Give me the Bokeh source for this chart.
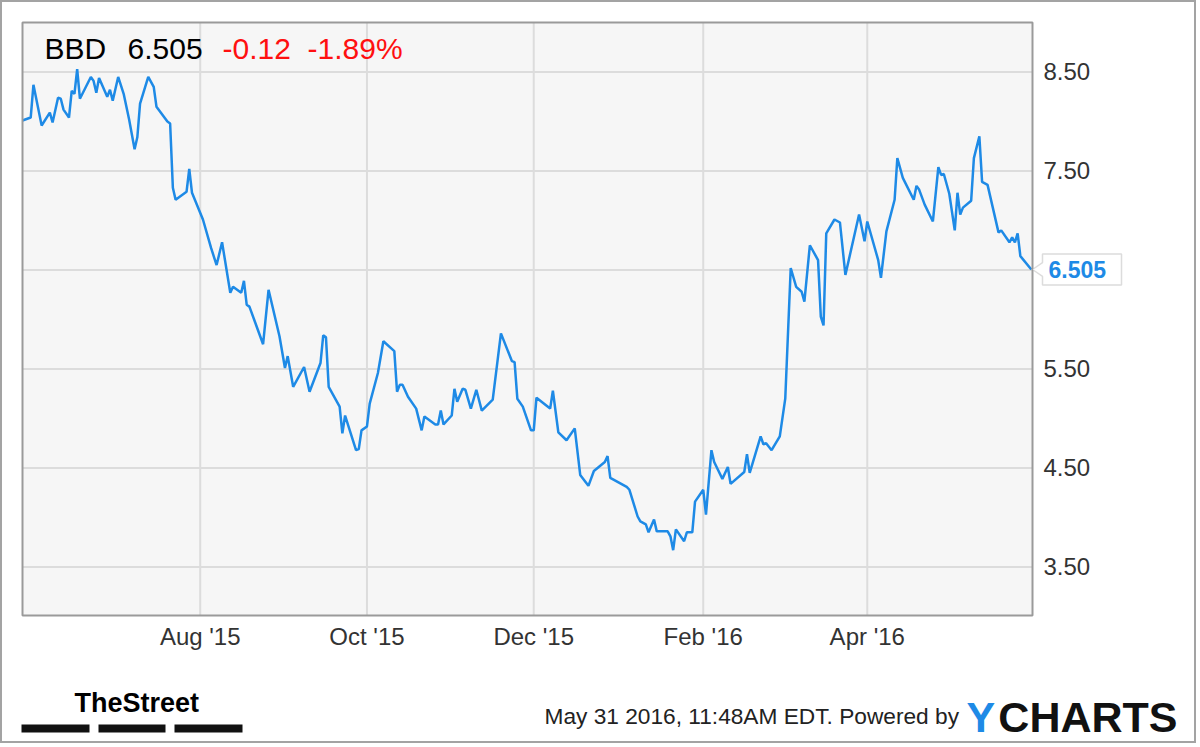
import pandas as pd
from bokeh.plotting import figure
from bokeh.models import Range1d, Label, BoxAnnotation, PolyAnnotation
from bokeh.core.properties import value
from bokeh.embed import file_html
from bokeh.resources import INLINE

# ---------------- data ----------------
dates = [
    "2015-05-28", "2015-05-31", "2015-06-01", "2015-06-04", "2015-06-07", "2015-06-08",
    "2015-06-10", "2015-06-11", "2015-06-12", "2015-06-14", "2015-06-15", "2015-06-16",
    "2015-06-17", "2015-06-18", "2015-06-22", "2015-06-23", "2015-06-24", "2015-06-25",
    "2015-06-28", "2015-06-29", "2015-06-30", "2015-07-02", "2015-07-04", "2015-07-06",
    "2015-07-08", "2015-07-09", "2015-07-10", "2015-07-13", "2015-07-15", "2015-07-16",
    "2015-07-20", "2015-07-21", "2015-07-22", "2015-07-23", "2015-07-27", "2015-07-28",
    "2015-07-29", "2015-08-02", "2015-08-05", "2015-08-07", "2015-08-09", "2015-08-12",
    "2015-08-13", "2015-08-16", "2015-08-17", "2015-08-18", "2015-08-19", "2015-08-24",
    "2015-08-26", "2015-08-30", "2015-09-01", "2015-09-02", "2015-09-04", "2015-09-08",
    "2015-09-10", "2015-09-14", "2015-09-15", "2015-09-16", "2015-09-17", "2015-09-21",
    "2015-09-22", "2015-09-23", "2015-09-27", "2015-09-28", "2015-09-29", "2015-10-01",
    "2015-10-02", "2015-10-05", "2015-10-07", "2015-10-11", "2015-10-12", "2015-10-13",
    "2015-10-14", "2015-10-16", "2015-10-19", "2015-10-21", "2015-10-22", "2015-10-26",
    "2015-10-27", "2015-10-28", "2015-10-29", "2015-11-01", "2015-11-02", "2015-11-03",
    "2015-11-05", "2015-11-06", "2015-11-08", "2015-11-10", "2015-11-12", "2015-11-16",
    "2015-11-19", "2015-11-23", "2015-11-24", "2015-11-25", "2015-11-27", "2015-11-30",
    "2015-12-01", "2015-12-02", "2015-12-07", "2015-12-08", "2015-12-10", "2015-12-13",
    "2015-12-16", "2015-12-18", "2015-12-21", "2015-12-23", "2015-12-27", "2015-12-28",
    "2015-12-29", "2016-01-04", "2016-01-05", "2016-01-08", "2016-01-09", "2016-01-11",
    "2016-01-12", "2016-01-14", "2016-01-15", "2016-01-19", "2016-01-20", "2016-01-21",
    "2016-01-22", "2016-01-25", "2016-01-26", "2016-01-28", "2016-01-29", "2016-02-01",
    "2016-02-02", "2016-02-04", "2016-02-05", "2016-02-08", "2016-02-10", "2016-02-11",
    "2016-02-16", "2016-02-17", "2016-02-18", "2016-02-22", "2016-02-23", "2016-02-24",
    "2016-02-26", "2016-02-29", "2016-03-02", "2016-03-04", "2016-03-06", "2016-03-08",
    "2016-03-09", "2016-03-11", "2016-03-14", "2016-03-15", "2016-03-16", "2016-03-17",
    "2016-03-20", "2016-03-22", "2016-03-24", "2016-03-29", "2016-03-31", "2016-04-01",
    "2016-04-05", "2016-04-06", "2016-04-08", "2016-04-11", "2016-04-12", "2016-04-14",
    "2016-04-18", "2016-04-19", "2016-04-20", "2016-04-22", "2016-04-25", "2016-04-27",
    "2016-04-28", "2016-04-29", "2016-05-01", "2016-05-03", "2016-05-04", "2016-05-05",
    "2016-05-06", "2016-05-09", "2016-05-10", "2016-05-12", "2016-05-13", "2016-05-15",
    "2016-05-19", "2016-05-20", "2016-05-23", "2016-05-24", "2016-05-25", "2016-05-26",
    "2016-05-27", "2016-05-31",
]
prices = [
    8.01, 8.04, 8.37, 7.96, 8.09, 7.99,
    8.24, 8.23, 8.12, 8.04, 8.31, 8.28,
    8.53, 8.23, 8.45, 8.41, 8.29, 8.44,
    8.25, 8.32, 8.21, 8.45, 8.28, 8.02,
    7.72, 7.84, 8.18, 8.45, 8.35, 8.15,
    8.00, 7.98, 7.33, 7.21, 7.29, 7.52,
    7.28, 7.01, 6.72, 6.55, 6.78, 6.27,
    6.33, 6.27, 6.39, 6.15, 6.13, 5.75,
    6.30, 5.83, 5.51, 5.63, 5.32, 5.52,
    5.27, 5.56, 5.84, 5.82, 5.32, 5.12,
    4.85, 5.03, 4.68, 4.69, 4.88, 4.92,
    5.15, 5.46, 5.78, 5.68, 5.27, 5.34,
    5.34, 5.22, 5.10, 4.88, 5.02, 4.94,
    4.94, 5.08, 4.94, 5.03, 5.30, 5.17,
    5.30, 5.29, 5.10, 5.29, 5.08, 5.19,
    5.86, 5.58, 5.57, 5.20, 5.12, 4.88,
    4.88, 5.21, 5.10, 5.28, 4.86, 4.78,
    4.90, 4.43, 4.32, 4.47, 4.56, 4.62,
    4.40, 4.31, 4.28, 4.01, 3.96, 3.93,
    3.85, 3.98, 3.86, 3.86, 3.81, 3.67,
    3.88, 3.76, 3.85, 3.85, 4.16, 4.28,
    4.03, 4.68, 4.56, 4.39, 4.51, 4.34,
    4.46, 4.64, 4.45, 4.82, 4.74, 4.75,
    4.68, 4.82, 5.20, 6.52, 6.33, 6.28,
    6.18, 6.75, 6.60, 6.03, 5.94, 6.87,
    7.01, 6.98, 6.45, 7.06, 6.79, 6.99,
    6.60, 6.42, 6.89, 7.21, 7.63, 7.43,
    7.21, 7.35, 7.31, 7.16, 6.99, 7.54,
    7.46, 7.47, 7.27, 6.90, 7.28, 7.06,
    7.13, 7.20, 7.63, 7.85, 7.39, 7.36,
    6.88, 6.90, 6.78, 6.83, 6.78, 6.87,
    6.64, 6.505,
]
x_tick_dates = ["2015-08-01", "2015-10-01", "2015-12-01", "2016-02-01", "2016-04-01"]
y_ticks = [3.5, 4.5, 5.5, 6.5, 7.5, 8.5]
symbol = "BBD"
last_price_text = "6.505"
change_text = "-0.12"
change_pct_text = "-1.89%"
stamp_text = "May 31 2016, 11:48AM EDT.  Powered by"
brand_left = "TheStreet"
brand_right = ["Y", "CHARTS"]

# ---------------- layout constants (canvas pixels) ----------------
W, H = 1196, 743
PL, PR, PT, PB = 20, 1030, 20, 613          # plot area inside the canvas
date_start = pd.Timestamp("2015-05-28")
date_end = pd.Timestamp("2016-05-31 10:30")
y_lo, y_hi = 3.01, 9.0

BLUE = "#1e8ae6"
FONT = "Liberation Sans"

ms0 = date_start.value / 1e6
ms1 = date_end.value / 1e6
mpp = (ms1 - ms0) / (PR - PL)
vpp = (y_hi - y_lo) / (PB - PT)

p = figure(width=W, height=H,
           x_range=Range1d(ms0 - PL * mpp, ms1 + (W - PR) * mpp),
           y_range=Range1d(y_lo - (H - PB) * vpp, y_hi + PT * vpp),
           x_axis_location=None, y_axis_location=None,
           output_backend="svg", toolbar_location=None, title=None,
           min_border=0, min_border_left=0, min_border_right=0,
           min_border_top=0, min_border_bottom=0)
p.styles = {"border": "2px solid #a3a3a3"}
p.grid.visible = False
p.outline_line_color = None
p.background_fill_color = "white"
p.border_fill_color = "white"

x = pd.to_datetime(dates).to_numpy()
tick_ms = [pd.Timestamp(d).value / 1e6 for d in x_tick_dates]
tick_labels = [pd.Timestamp(d).strftime("%b '%y") for d in x_tick_dates]

# plot area background
p.quad(left=[ms0], right=[ms1], bottom=[y_lo], top=[y_hi],
       fill_color="#f6f6f6", line_color=None)
# grid lines
p.segment(x0=[ms0] * len(y_ticks), x1=[ms1] * len(y_ticks), y0=y_ticks, y1=y_ticks,
          line_color="#dcdcdc", line_width=2)
p.segment(x0=tick_ms, x1=tick_ms, y0=[y_lo] * len(tick_ms), y1=[y_hi] * len(tick_ms),
          line_color="#dcdcdc", line_width=2)
# price line
p.line(x, prices, line_color=BLUE, line_width=2.5)
# plot border
p.quad(left=[ms0], right=[ms1], bottom=[y_lo], top=[y_hi],
       fill_color=None, line_color="#9a9a9a", line_width=2)

# axis tick labels
y_labels = ["" if abs(t - prices[-1]) < 0.05 else f"{t:.2f}" for t in y_ticks]
p.text(x=[ms1] * len(y_ticks), y=y_ticks, text=y_labels, x_offset=11,
       text_font=value(FONT), text_font_size=value("24px"), text_color="#333333",
       text_align="left", text_baseline="middle")
p.text(x=tick_ms, y=[y_lo] * len(tick_ms), text=tick_labels, y_offset=21,
       text_font=value(FONT), text_font_size=value("24px"), text_color="#333333",
       text_align="center", text_baseline="alphabetic")


def lab(xs, ys, text, size, color="black", bold=False, align="left", baseline="alphabetic",
        y_units="screen"):
    l = Label(x=xs, y=ys, x_units="screen", y_units=y_units, text=text,
              text_font=FONT, text_font_size=size, text_color=color,
              text_font_style="bold" if bold else "normal",
              text_align=align, text_baseline=baseline)
    p.add_layout(l)
    return l


# header (screen units: x from left, y up from bottom of canvas)
lab(42, 697, symbol, "30px")
lab(125, 697, last_price_text, "30px")
lab(220, 697, change_text, "30px", color="#ff1010")
lab(305, 697, change_pct_text, "30px", color="#ff1010")

# last price callout
v = prices[-1]
h = 0.157
n = 0.07
p.add_layout(PolyAnnotation(xs=[1040, 1040, 1119, 1119, 1040, 1040, 1030],
                            ys=[v + n, v + h, v + h, v - h, v - h, v - n, v],
                            xs_units="screen", ys_units="data",
                            fill_color="white", fill_alpha=1.0,
                            line_color="#8a8a8a", line_width=1.5))
lab(1046, v, last_price_text, "23px", color=BLUE, bold=True, baseline="middle", y_units="data")

# footer
lab(72, 43, brand_left, "27px", bold=True)
for (l0, r0) in [(19, 87), (96, 163), (172, 240)]:
    p.add_layout(BoxAnnotation(left=l0, right=r0, bottom=13, top=21,
                               left_units="screen", right_units="screen",
                               bottom_units="screen", top_units="screen",
                               fill_color="#111111", fill_alpha=1.0, line_color=None))
lab(542, 30, stamp_text, "22.7px", color="#222222")
lab(964, 29, brand_right[0], "43px", color=BLUE, bold=True)
lab(1175, 29, brand_right[1], "43px", color="#111111", bold=True, align="right")

open("out.html", "w").write(file_html(p, INLINE))
